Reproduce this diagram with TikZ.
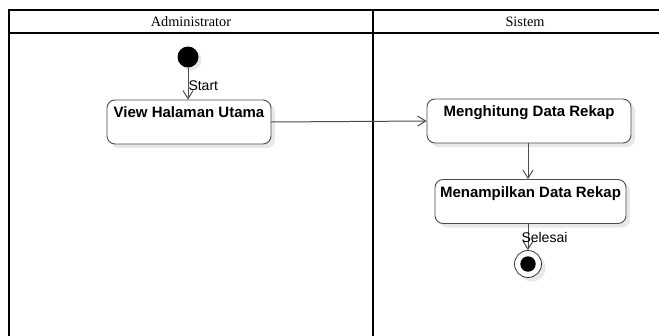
\documentclass[tikz,border=0pt]{standalone}
\usepackage{fontspec}
\setmainfont{Liberation Serif}
\newfontfamily\uisans{Liberation Sans}
\usepackage{tikz}
\usetikzlibrary{arrows.meta,shadows}

\tikzset{
  lane/.style={line width=1.8pt, black},
  act/.style={draw=black!70, line width=0.9pt, rounded corners=8pt, fill=white,
    inner sep=0pt, align=center, minimum height=44pt,
    font=\uisans\bfseries\fontsize{15}{17}\selectfont,
    drop shadow={shadow xshift=4pt, shadow yshift=-4pt, fill=black!9, opacity=1}},
  flow/.style={draw=black!70, line width=1pt, -{Straight Barb[length=8pt,width=10pt]}},
  guard/.style={font=\uisans\fontsize{14}{16}\selectfont, inner sep=1pt},
}

\begin{document}
\begin{tikzpicture}[x=1pt, y=-1pt]
\useasboundingbox (0,0) rectangle (659,335);

% swimlanes
\begin{scope}
\clip (0,0) rectangle (659,335);
\draw[lane] (9,340) -- (9,10) -- (670,10);
\draw[lane] (9,33) -- (670,33);
\draw[lane] (373,10) -- (373,340);
\end{scope}
\node[font=\fontsize{14.3}{16}\selectfont] (laneAdmin) at (191,22) {Administrator};
\node[font=\fontsize{14.3}{16}\selectfont] (laneSistem) at (525,22) {Sistem};

% start / end
\node[circle, fill=black, minimum size=21pt, inner sep=0pt,
  drop shadow={shadow xshift=3pt, shadow yshift=-3pt, fill=black!9, opacity=1}] (start) at (188,57) {};
\node[circle, draw=black!80, fill=white, line width=0.8pt, minimum size=27pt, inner sep=0pt,
  drop shadow={shadow xshift=4pt, shadow yshift=-4pt, fill=black!9, opacity=1}] (finish) at (528,264) {};
\fill (finish.center) circle (7.7pt);

% activities
\node[act, minimum width=164pt] (viewHal) at (189,122) {View Halaman Utama\\[2pt]\mbox{}};
\node[act, minimum width=204pt] (hitung) at (529,121) {Menghitung Data Rekap\\[2pt]\mbox{}};
\node[act, minimum width=191pt] (tampil) at (530.5,201.5) {Menampilkan Data Rekap\\[2pt]\mbox{}};

% flows
\draw[flow] (start) -- (viewHal.north -| start) node[guard, pos=0.55, anchor=west, xshift=-1pt] {Start};
\draw[flow] (viewHal.east) -- (hitung.west);
\draw[flow] (hitung.south -| finish) -- (tampil.north -| finish);
\draw[flow] (tampil.south -| finish) -- (finish.north) node[guard, midway, anchor=west, xshift=-8pt] {Selesai};
\end{tikzpicture}
\end{document}
